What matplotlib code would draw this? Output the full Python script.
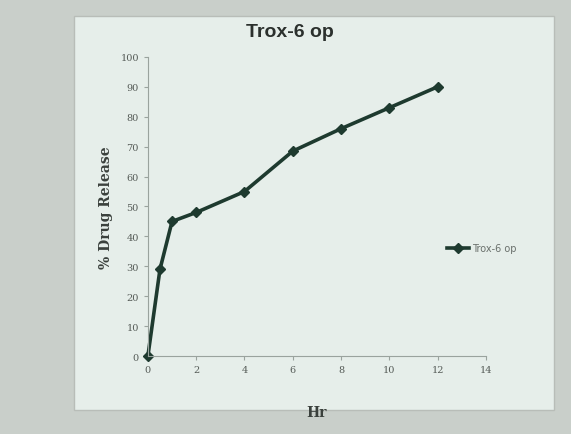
import matplotlib.pyplot as plt
from matplotlib.patches import Rectangle

hours = [0, 0.5, 1, 2, 4, 6, 8, 10, 12]
release = [0, 29, 45, 48, 55, 68.5, 76, 83, 90]
series_name = 'Trox-6 op'

fig = plt.figure(figsize=(5.71, 4.35), dpi=100)
fig.patch.set_facecolor('#c9cfca')

# the photographed sheet behind the chart
fig.patches.append(Rectangle((0.13, 0.055), 0.84, 0.905, transform=fig.transFigure,
                             facecolor='#e6eeea', edgecolor='#b8bdb8', lw=1, zorder=0))

ax = fig.add_axes([0.259, 0.179, 0.592, 0.688], zorder=2)
ax.set_facecolor('none')
ax.plot(hours, release, color='#1e3a2f', lw=2.6, marker='D', ms=5,
        label=series_name, clip_on=False)

ax.set_xlim(0, 14)
ax.set_ylim(0, 100)
ax.set_xticks(range(0, 15, 2))
ax.set_yticks(range(0, 101, 10))
for s in ['top', 'right']:
    ax.spines[s].set_visible(False)
for s in ['left', 'bottom']:
    ax.spines[s].set_color('#9aa39e')
ax.tick_params(colors='#9aa39e', labelcolor='#555b57', labelsize=7, length=3)
for lbl in ax.get_xticklabels() + ax.get_yticklabels():
    lbl.set_family('DejaVu Serif')

ax.set_xlabel('Hr', family='DejaVu Serif', fontweight='bold', fontsize=10,
              color='#3a403c', labelpad=22)
ax.set_ylabel('% Drug Release', family='DejaVu Serif', fontweight='bold',
              fontsize=10, color='#3a403c', labelpad=5)
fig.text(0.508, 0.925, series_name, ha='center', va='center', fontsize=14,
         fontweight='bold', color='#2b302d', family='Liberation Sans',
         fontstretch='condensed')

leg = ax.legend(loc='center left', bbox_to_anchor=(0.86, 0.36), frameon=False,
                fontsize=7, handlelength=2.2, handletextpad=0.3)
for t in leg.get_texts():
    t.set_color('#6a706c')

fig.savefig('out.png', dpi=100, facecolor=fig.get_facecolor())
